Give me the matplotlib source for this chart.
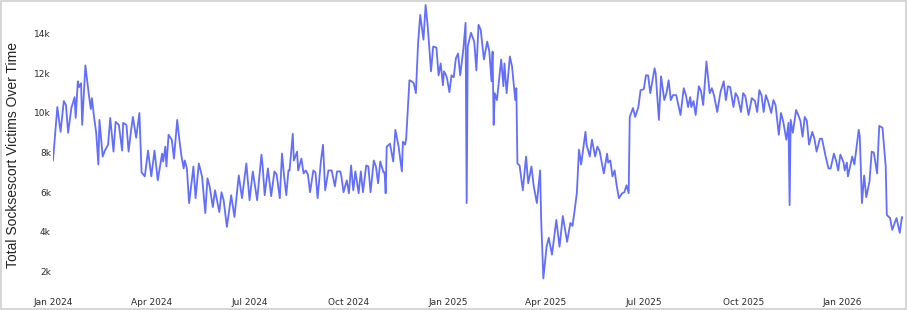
import numpy as np
import pandas as pd
import matplotlib
matplotlib.use("Agg")
import matplotlib.pyplot as plt
import matplotlib.dates as mdates
from matplotlib.patches import Rectangle

# daily totals (peaks / troughs of the weekly cycle)
dates = [
    "2024-01-01", "2024-01-05", "2024-01-08", "2024-01-11", "2024-01-13", "2024-01-15",
    "2024-01-18", "2024-01-21", "2024-01-22", "2024-01-24", "2024-01-25", "2024-01-27",
    "2024-01-28", "2024-01-31", "2024-02-03", "2024-02-05", "2024-02-06", "2024-02-08",
    "2024-02-10", "2024-02-12", "2024-02-13", "2024-02-16", "2024-02-18", "2024-02-21",
    "2024-02-23", "2024-02-26", "2024-02-28", "2024-03-02", "2024-03-05", "2024-03-06",
    "2024-03-09", "2024-03-11", "2024-03-13", "2024-03-15", "2024-03-18", "2024-03-21",
    "2024-03-23", "2024-03-26", "2024-03-29", "2024-04-01", "2024-04-04", "2024-04-07",
    "2024-04-11", "2024-04-12", "2024-04-14", "2024-04-15", "2024-04-17", "2024-04-20",
    "2024-04-22", "2024-04-25", "2024-04-27", "2024-04-29", "2024-05-01", "2024-05-02",
    "2024-05-04", "2024-05-06", "2024-05-08", "2024-05-10", "2024-05-12", "2024-05-15",
    "2024-05-18", "2024-05-21", "2024-05-23", "2024-05-25", "2024-05-28", "2024-05-30",
    "2024-06-03", "2024-06-05", "2024-06-07", "2024-06-10", "2024-06-14", "2024-06-17",
    "2024-06-21", "2024-06-24", "2024-06-28", "2024-07-01", "2024-07-04", "2024-07-08",
    "2024-07-12", "2024-07-13", "2024-07-15", "2024-07-18", "2024-07-21", "2024-07-24",
    "2024-07-26", "2024-07-29", "2024-07-31", "2024-08-02", "2024-08-04", "2024-08-06",
    "2024-08-07", "2024-08-10", "2024-08-11", "2024-08-14", "2024-08-15", "2024-08-18",
    "2024-08-20", "2024-08-22", "2024-08-24", "2024-08-26", "2024-08-29", "2024-08-31",
    "2024-09-02", "2024-09-05", "2024-09-07", "2024-09-09", "2024-09-12", "2024-09-15",
    "2024-09-18", "2024-09-20", "2024-09-23", "2024-09-24", "2024-09-26", "2024-09-29",
    "2024-10-01", "2024-10-03", "2024-10-05", "2024-10-07", "2024-10-10", "2024-10-12",
    "2024-10-14", "2024-10-17", "2024-10-19", "2024-10-21", "2024-10-24", "2024-10-26",
    "2024-10-28", "2024-10-30", "2024-11-02", "2024-11-03", "2024-11-04", "2024-11-05",
    "2024-11-08", "2024-11-11", "2024-11-13", "2024-11-16", "2024-11-19", "2024-11-20",
    "2024-11-22", "2024-11-23", "2024-11-26", "2024-11-28", "2024-11-30", "2024-12-02",
    "2024-12-04", "2024-12-06", "2024-12-09", "2024-12-11", "2024-12-13", "2024-12-16",
    "2024-12-18", "2024-12-21", "2024-12-23", "2024-12-25", "2024-12-27", "2024-12-28",
    "2024-12-30", "2024-12-31", "2025-01-02", "2025-01-04", "2025-01-06", "2025-01-08",
    "2025-01-10", "2025-01-12", "2025-01-15", "2025-01-17", "2025-01-18", "2025-01-19",
    "2025-01-22", "2025-01-25", "2025-01-27", "2025-01-29", "2025-01-31", "2025-02-03",
    "2025-02-06", "2025-02-08", "2025-02-10", "2025-02-11", "2025-02-12", "2025-02-13",
    "2025-02-15", "2025-02-19", "2025-02-21", "2025-02-22", "2025-02-24", "2025-02-27",
    "2025-03-01", "2025-03-04", "2025-03-05", "2025-03-06", "2025-03-08", "2025-03-11",
    "2025-03-14", "2025-03-16", "2025-03-19", "2025-03-21", "2025-03-24", "2025-03-27",
    "2025-03-28", "2025-03-30", "2025-04-02", "2025-04-04", "2025-04-07", "2025-04-11",
    "2025-04-14", "2025-04-17", "2025-04-21", "2025-04-24", "2025-04-26", "2025-04-28",
    "2025-04-30", "2025-05-02", "2025-05-04", "2025-05-08", "2025-05-09", "2025-05-12",
    "2025-05-14", "2025-05-17", "2025-05-19", "2025-05-21", "2025-05-25", "2025-05-28",
    "2025-05-29", "2025-05-31", "2025-06-02", "2025-06-04", "2025-06-06", "2025-06-08",
    "2025-06-11", "2025-06-13", "2025-06-15", "2025-06-17", "2025-06-18", "2025-06-21",
    "2025-06-23", "2025-06-26", "2025-06-28", "2025-07-01", "2025-07-03", "2025-07-05",
    "2025-07-07", "2025-07-11", "2025-07-12", "2025-07-15", "2025-07-17", "2025-07-20",
    "2025-07-22", "2025-07-24", "2025-07-26", "2025-07-28", "2025-07-31", "2025-08-04",
    "2025-08-07", "2025-08-09", "2025-08-11", "2025-08-13", "2025-08-14", "2025-08-16",
    "2025-08-18", "2025-08-21", "2025-08-23", "2025-08-25", "2025-08-28", "2025-08-31",
    "2025-09-02", "2025-09-04", "2025-09-07", "2025-09-10", "2025-09-13", "2025-09-15",
    "2025-09-17", "2025-09-19", "2025-09-22", "2025-09-24", "2025-09-26", "2025-09-29",
    "2025-10-01", "2025-10-03", "2025-10-06", "2025-10-09", "2025-10-12", "2025-10-14",
    "2025-10-16", "2025-10-18", "2025-10-20", "2025-10-22", "2025-10-24", "2025-10-27",
    "2025-10-29", "2025-10-31", "2025-11-03", "2025-11-05", "2025-11-07", "2025-11-10",
    "2025-11-12", "2025-11-13", "2025-11-14", "2025-11-16", "2025-11-19", "2025-11-21",
    "2025-11-23", "2025-11-25", "2025-11-27", "2025-11-29", "2025-12-01", "2025-12-04",
    "2025-12-06", "2025-12-08", "2025-12-11", "2025-12-13", "2025-12-15", "2025-12-16",
    "2025-12-19", "2025-12-21", "2025-12-24", "2025-12-26", "2025-12-28", "2025-12-30",
    "2026-01-02", "2026-01-03", "2026-01-05", "2026-01-06", "2026-01-10", "2026-01-12",
    "2026-01-16", "2026-01-17", "2026-01-19", "2026-01-21", "2026-01-23", "2026-01-26",
    "2026-01-28", "2026-01-30", "2026-02-02", "2026-02-04", "2026-02-07", "2026-02-10",
    "2026-02-11", "2026-02-14", "2026-02-16", "2026-02-20", "2026-02-23", "2026-02-25",
    "2026-02-26",
]

victims_k = [
    7.6, 10.3, 9.05, 10.6, 10.4, 9.0,
    10.25, 10.8, 9.75, 11.6, 11.3, 11.5,
    9.4, 12.4, 11.0, 10.2, 10.75, 9.8,
    9.0, 7.4, 9.65, 7.8, 8.1, 8.4,
    9.75, 8.05, 9.55, 9.4, 8.1, 9.5,
    9.4, 8.05, 9.0, 9.8, 8.75, 10.0,
    7.0, 6.8, 8.1, 6.8, 8.1, 6.6,
    7.95, 7.55, 8.3, 7.3, 8.9, 8.65,
    7.7, 9.65, 8.65, 7.8, 7.2, 7.6,
    7.2, 5.45, 6.35, 7.3, 5.7, 7.45,
    6.8, 4.95, 6.7, 6.3, 5.25, 6.1,
    5.0, 6.0, 5.6, 4.25, 5.85, 4.75,
    6.85, 5.7, 7.45, 5.6, 7.05, 5.6,
    7.9, 7.4, 5.85, 7.2, 5.8, 7.05,
    6.9, 5.7, 7.95, 6.8, 5.85, 7.1,
    7.1, 8.95, 7.6, 8.05, 7.1, 7.7,
    6.95, 7.1, 6.9, 6.0, 7.1, 7.0,
    5.7, 7.55, 8.4, 6.1, 7.1, 7.1,
    6.3, 7.05, 7.05, 6.8, 6.0, 6.6,
    5.95, 7.35, 6.1, 7.05, 5.95, 7.05,
    6.0, 7.35, 7.3, 6.0, 7.6, 7.3,
    6.45, 7.55, 7.0, 7.0, 5.95, 8.3,
    8.45, 7.55, 9.15, 8.3, 7.05, 8.55,
    8.4, 8.7, 11.65, 11.6, 11.5, 11.0,
    13.5, 14.95, 13.7, 15.45, 14.35, 12.1,
    13.35, 13.3, 11.9, 12.5, 11.4, 12.1,
    11.9, 11.7, 11.05, 11.9, 11.8, 12.75,
    13.0, 11.9, 13.25, 14.55, 5.45, 13.35,
    14.05, 13.6, 12.15, 14.45, 14.2, 12.7,
    13.6, 13.1, 11.6, 13.1, 9.4, 11.0,
    10.65, 12.7, 11.35, 12.5, 11.0, 12.85,
    12.35, 10.65, 11.25, 7.45, 7.35, 6.1,
    7.8, 6.45, 7.3, 6.35, 5.45, 7.1,
    4.6, 1.65, 3.25, 3.7, 2.85, 4.6,
    3.25, 4.8, 3.5, 4.45, 4.3, 5.1,
    5.95, 8.15, 7.4, 9.05, 8.4, 7.8,
    8.65, 7.8, 8.3, 8.1, 6.95, 7.95,
    7.5, 7.6, 6.8, 7.1, 6.3, 5.7,
    5.95, 6.0, 6.35, 5.95, 9.8, 10.25,
    9.8, 10.3, 11.15, 11.2, 11.9, 11.9,
    11.0, 12.25, 12.0, 9.65, 11.85, 10.65,
    11.0, 11.65, 10.65, 10.9, 10.9, 9.9,
    11.25, 10.9, 10.3, 10.8, 10.3, 10.6,
    9.9, 11.35, 11.1, 10.4, 12.6, 11.0,
    11.25, 10.9, 10.05, 11.05, 11.6, 10.65,
    11.35, 11.3, 10.3, 11.0, 10.8, 10.05,
    11.0, 10.85, 9.9, 10.75, 10.6, 10.05,
    11.15, 10.9, 10.05, 10.9, 10.6, 10.0,
    10.65, 10.4, 8.9, 10.0, 9.6, 8.65,
    9.5, 5.35, 9.65, 9.0, 10.15, 9.9,
    9.6, 8.8, 9.8, 9.6, 8.4, 9.05,
    8.7, 8.05, 8.7, 8.7, 8.15, 7.9,
    7.2, 7.2, 7.95, 7.6, 7.1, 7.9,
    7.5, 7.1, 7.5, 6.8, 7.8, 7.4,
    9.15, 8.8, 5.45, 6.85, 5.75, 6.55,
    8.05, 8.0, 6.95, 9.35, 9.25, 7.3,
    4.85, 4.7, 4.1, 4.7, 3.95, 4.75,
    4.7,
]

ytick_values = [2000, 4000, 6000, 8000, 10000, 12000, 14000]
ytick_labels = ["2k", "4k", "6k", "8k", "10k", "12k", "14k"]
y_title = "Total Socksescort Victims Over Time"

df = pd.DataFrame({"date": pd.to_datetime(dates), "victims": np.array(victims_k) * 1000})

fig = plt.figure(figsize=(9.07, 3.10), dpi=100)
fig.patch.set_facecolor("white")
ax = fig.add_axes([53 / 907, 30 / 310, 850 / 907, 276 / 310])

ax.plot(df["date"], df["victims"], color="#636efa", lw=1.3, solid_joinstyle="round")

ax.set_xlim(df["date"].min(), df["date"].max())
ax.set_ylim(df["victims"].min() - 80, df["victims"].max() + 50)

ax.set_yticks(ytick_values)
ax.set_yticklabels(ytick_labels)
ax.xaxis.set_major_locator(mdates.MonthLocator(bymonth=[1, 4, 7, 10]))
ax.xaxis.set_major_formatter(mdates.DateFormatter("%b %Y"))

for s in ax.spines.values():
    s.set_visible(False)
ax.tick_params(axis="both", length=0, labelsize=6.5, labelcolor="#2b2b2b")
ax.tick_params(axis="x", pad=13)
ax.tick_params(axis="y", pad=1.5)

fig.text(13 / 907, 0.5, y_title, rotation=90, ha="center", va="center",
         fontsize=10, family="Liberation Sans", color="#222222")

# thin grey frame around the whole picture
fig.patches.append(Rectangle((0.0008, 0.002), 0.9984, 0.995, transform=fig.transFigure,
                             fill=False, edgecolor="#cfcfcf", lw=1.2))

fig.savefig("out.png", dpi=100)
